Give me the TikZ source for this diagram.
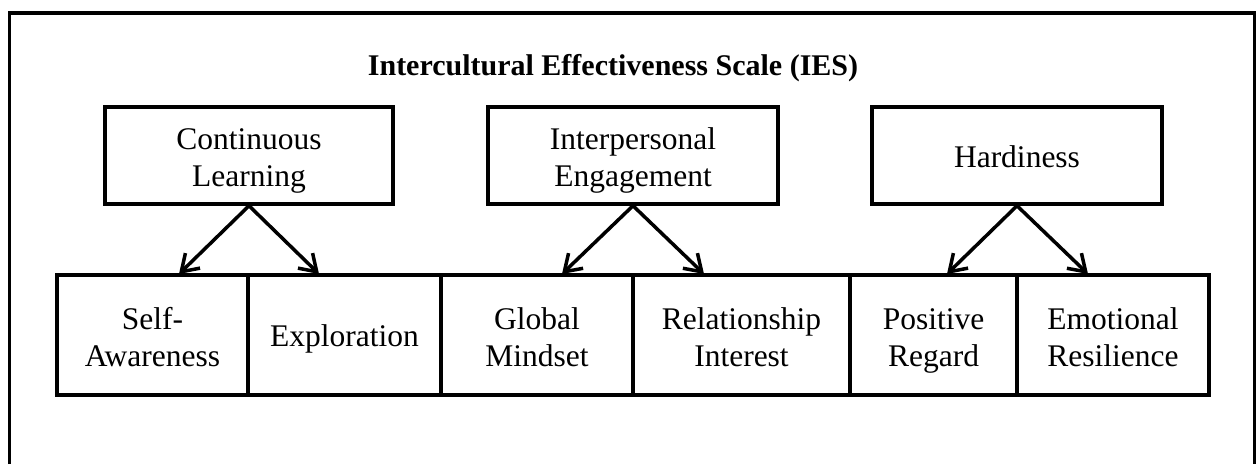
\documentclass[tikz,border=0pt]{standalone}
\usepackage{fontspec}
\setmainfont{Liberation Serif}
\usetikzlibrary{arrows.meta}
\tikzset{
  box/.style={draw, line width=3.5pt, align=center, inner sep=0pt,
    font=\fontsize{31.5}{37}\selectfont, text height=31pt, text depth=8pt},
  twolines/.style={text height=70pt},
  topbox/.style={box, minimum width=290pt, minimum height=97pt},
  lowbox/.style={box, minimum height=120pt},
  arr/.style={line width=3.5pt, -{Straight Barb[length=16pt,width=21pt]}},
}
\begin{document}
\begin{tikzpicture}[x=1pt,y=-1pt]
  \useasboundingbox (0,0) rectangle (1257,464);
  \draw[line width=3.5pt] (9.5,464) -- (9.5,13) -- (1254.5,13) -- (1254.5,464);
  \node[anchor=base, font=\fontsize{30}{36}\selectfont\bfseries] (T) at (613,75)
    {Intercultural Effectiveness Scale (IES)};
  % factors
  \node[topbox, twolines, minimum width=288pt] (CL) at (249,155.5) {Continuous\\Learning};
  \node[topbox, twolines] (IE) at (633,155.5) {Interpersonal\\Engagement};
  \node[topbox] (HD) at (1017,155.5) {Hardiness};
  % sub-scales
  \node[lowbox, twolines, minimum width=191pt] (SA) at (152.5,335) {Self-\\Awareness};
  \node[lowbox, minimum width=193pt] (EX) at (344.5,335) {Exploration};
  \node[lowbox, twolines, minimum width=192pt] (GM) at (537,335) {Global\\Mindset};
  \node[lowbox, twolines, minimum width=217pt] (RI) at (741.5,335) {Relationship\\Interest};
  \node[lowbox, twolines, minimum width=167pt] (PR) at (933.5,335) {Positive\\Regard};
  \node[lowbox, twolines, minimum width=192pt] (ER) at (1113,335) {Emotional\\Resilience};
  \foreach \p/\a/\b in {CL/179/319, IE/562/704, HD/947/1088}{
    \coordinate (\p L) at (\a,274);
    \coordinate (\p R) at (\b,274);
    \draw[arr] (\p.south) -- (\p L);
    \draw[arr] (\p.south) -- (\p R);
  }
\end{tikzpicture}
\end{document}
